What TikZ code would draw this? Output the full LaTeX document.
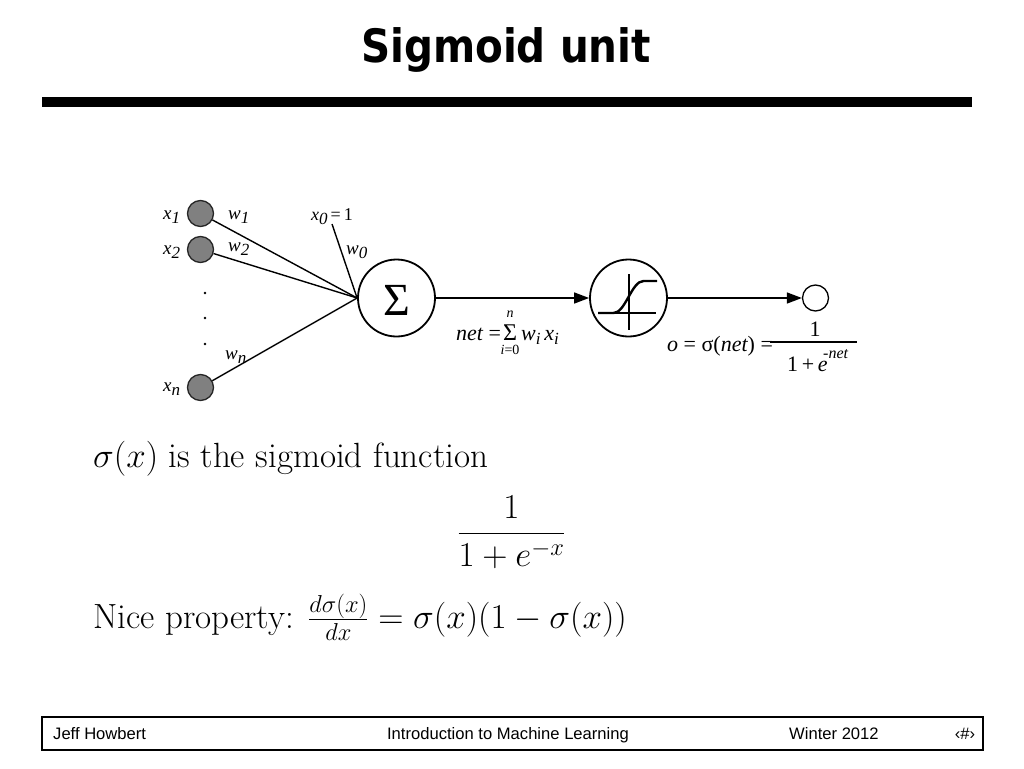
\RequirePackage{fix-cm}
\documentclass[tikz,border=0pt]{standalone}
\usepackage{fontspec}
\usetikzlibrary{arrows.meta}
\newfontfamily\tms{Liberation Serif}
\newfontfamily\arl{Liberation Sans}
\newfontfamily\ttlfont[FakeStretch=0.88]{DejaVu Sans}
\newcommand\sbs[2][15]{\raisebox{-4pt}{\fontsize{#1}{#1}\selectfont #2}}
\tikzset{
 incircle/.style={circle, draw=black!85, fill=black!50, line width=1.3pt, minimum size=26pt, inner sep=0},
 bigcircle/.style={circle, draw=black, fill=white, line width=1.8pt, minimum size=77pt, inner sep=0},
 outcircle/.style={circle, draw=black, fill=white, line width=1.3pt, minimum size=26pt, inner sep=0},
 wire/.style={line width=1.4pt},
 arr/.style={line width=1.4pt, -{Triangle[length=15pt,width=11pt]}},
 lbl/.style={font=\tms\itshape\fontsize{19}{19}\selectfont, inner sep=0, anchor=base west},
 frm/.style={font=\tms\fontsize{22}{22}\selectfont, inner sep=0, anchor=base west},
 dotn/.style={circle, fill=black, minimum size=2.6pt, inner sep=0},
 foottxt/.style={font=\arl\fontsize{16.6}{17}\selectfont, inner sep=0},
 lm/.style={font=\fontsize{35}{42}\selectfont, inner sep=0},
}
\begin{document}
\begin{tikzpicture}[x=1pt,y=-1pt]
\useasboundingbox (0,0) rectangle (1024,768);
\fill[white] (0,0) rectangle (1024,768);
% title
\node[font=\ttlfont\bfseries\fontsize{46}{50}\selectfont, anchor=base, inner sep=0] (title) at (506,63) {Sigmoid unit};
\node[fill=black, minimum width=930pt, minimum height=10pt, inner sep=0] (rule) at (507,102) {};
% network
\node[incircle] (x1) at (200.5,213.5) {};
\node[incircle] (x2) at (200.5,249.5) {};
\node[incircle] (xn) at (200.5,387.5) {};
\node[dotn] (d1) at (205,293) {};
\node[dotn] (d2) at (205,318) {};
\node[dotn] (d3) at (205,344) {};
\node[bigcircle] (sum) at (396.5,298) {};
\node[font=\tms\fontsize{46}{46}\selectfont, inner sep=0, anchor=base] (sigma) at (397,315) {Σ};
\node[bigcircle] (sig) at (628.5,298) {};
\node[outcircle] (out) at (815.5,298) {};
\coordinate (x0c) at (332,224);
\draw[wire] (x1) -- (sum.west);
\draw[wire] (x2) -- (sum.west);
\draw[wire] (xn) -- (sum.west);
\draw[wire] (x0c) -- (sum.west);
\draw[arr] (sum) -- (sig);
\draw[arr] (sig) -- (out);
% sigmoid icon
\begin{scope}[shift={(sig.center)}]
\draw[line width=1.6pt] (0.5,-24) -- (0.5,32);
\draw[line width=1.6pt] (-30.5,15) -- (27,15);
\draw[line width=2.4pt] (-30.5,15) -- (-15,15) .. controls (-3,15) and (3,-17) .. (15,-17) -- (28.5,-17);
\end{scope}
% labels
\node[lbl] (lx1) at (163,219) {x\sbs[17]{1}};
\node[lbl] (lx2) at (163,254) {x\sbs[17]{2}};
\node[lbl] (lxn) at (163,391) {x\sbs[17]{n}};
\node[lbl] (lw1) at (228,219) {w\sbs[17]{1}};
\node[lbl] (lw2) at (228,251) {w\sbs[17]{2}};
\node[lbl] (lw0) at (346,254) {w\sbs[17]{0}};
\node[lbl] (lwn) at (225,359) {w\sbs[17]{n}};
\node[lbl, font=\tms\fontsize{18}{18}\selectfont] (lx0) at (311,220) {{\itshape x\sbs[17]{0}}\,=\,1};
% net formula
\node[frm] (netl) at (456,340) {{\itshape net} =};
\node[frm, font=\tms\fontsize{24}{24}\selectfont] (nets) at (503,340) {Σ};
\node[frm, anchor=base, font=\tms\itshape\fontsize{14}{14}\selectfont] (netn) at (510,317) {n};
\node[frm, anchor=base, font=\tms\fontsize{14}{14}\selectfont] (neti) at (510,354) {{\itshape i}=0};
\node[frm, font=\tms\itshape\fontsize{22}{22}\selectfont] (netw) at (521,340) {w\sbs[17]{i}\,x\sbs[17]{i}};
% output formula
\node[frm] (ol) at (667,351) {{\itshape o} = σ({\itshape net}) =};
\draw[line width=1.2pt] (770,342) -- (857,342);
\node[frm, anchor=base] (onum) at (815,336) {1};
\node[frm] (oden) at (787,371) {1\,+\,{\itshape e}};
\node[frm, font=\tms\itshape\fontsize{16}{16}\selectfont] (osup) at (823,358) {-net};
% lower text
\node[lm, anchor=base west] (sigtxt) at (93,467) {$\sigma(x)$ is the sigmoid function};
\node[lm, anchor=base] (frac) at (511.5,542) {$\displaystyle\frac{1}{1+e^{-x}}$};
\node[lm, anchor=base west] (nice) at (93,628) {Nice property: $\frac{d\sigma(x)}{dx}=\sigma(x)(1-\sigma(x))$};
% footer
\node[draw, line width=1.3pt, minimum width=941pt, minimum height=33pt, inner sep=0] (foot) at (512.5,733.5) {};
\node[foottxt, anchor=base west] (f1) at (53,739) {Jeff Howbert};
\node[foottxt, anchor=base] (f2) at (508,739) {Introduction to Machine Learning};
\node[foottxt, anchor=base west] (f3) at (789,739) {Winter 2012};
\node[foottxt, anchor=base] (f4) at (965,739) {‹\#›};
\end{tikzpicture}
\end{document}
